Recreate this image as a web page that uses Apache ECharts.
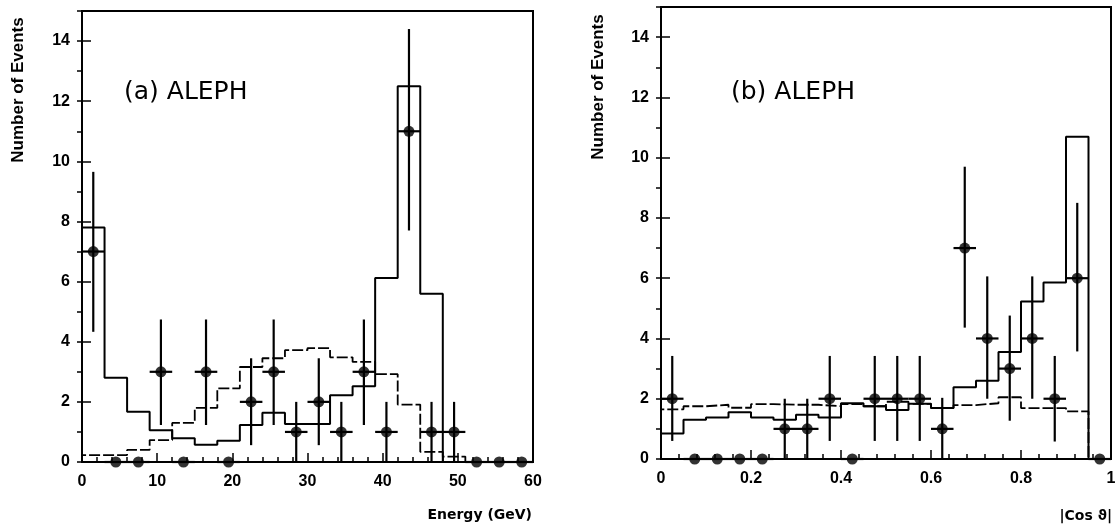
<!DOCTYPE html>
<html>
<head>
<meta charset="utf-8">
<script src="https://cdn.jsdelivr.net/npm/echarts@6/dist/echarts.min.js"></script>
<style>
  html, body { margin: 0; padding: 0; background: #fff; }
  #chart { width: 1119px; height: 530px; }
</style>
</head>
<body>
<div id="chart"></div>
<script>
// ---- Panel (a): energy of the candidates, 3 GeV bins ----
const energyEdges = [0, 3, 6, 9, 12, 15, 18, 21, 24, 27, 30, 33, 36, 39, 42, 45, 48, 51, 54, 57];
const energyEnd = 60;
const energyCenters = [1.5, 4.5, 7.5, 10.5, 13.5, 16.5, 19.5, 22.5, 25.5, 28.5, 31.5, 34.5, 37.5, 40.5, 43.5, 46.5, 49.5, 52.5, 55.5, 58.5];
const energyCounts = [7, 0, 0, 3, 0, 3, 0, 2, 3, 1, 2, 1, 3, 1, 11, 1, 1, 0, 0, 0];
const energyErrLow = [4.33, 0, 0, 1.23, 0, 1.23, 0, 0.56, 1.23, 0, 0.56, 0, 1.23, 0, 7.7, 0, 0, 0, 0, 0];
const energyErrHigh = [9.65, 0, 0, 4.74, 0, 4.74, 0, 3.45, 4.74, 2.0, 3.45, 2.0, 4.74, 2.0, 14.4, 2.0, 2.0, 0, 0, 0];
// expected spectra (solid: total, dashed: background)
const energySolid = [7.8, 2.8, 1.67, 1.06, 0.79, 0.57, 0.71, 1.23, 1.64, 1.26, 1.26, 2.22, 2.52, 6.12, 12.5, 5.6, 0, 0, 0, 0];
const energyDashed = [0.23, 0.23, 0.4, 0.73, 1.3, 1.8, 2.45, 3.16, 3.45, 3.72, 3.79, 3.48, 3.33, 2.92, 1.91, 0.34, 0.18, 0, 0, 0];

// ---- Panel (b): |cos theta| of the candidates, 0.05 bins ----
const cosEdges = [0, 0.05, 0.1, 0.15, 0.2, 0.25, 0.3, 0.35, 0.4, 0.45, 0.5, 0.55, 0.6, 0.65, 0.7, 0.75, 0.8, 0.85, 0.9, 0.95];
const cosEnd = 1;
const cosCenters = [0.025, 0.075, 0.125, 0.175, 0.225, 0.275, 0.325, 0.375, 0.425, 0.475, 0.525, 0.575, 0.625, 0.675, 0.725, 0.775, 0.825, 0.875, 0.925, 0.975];
const cosCounts = [2, 0, 0, 0, 0, 1, 1, 2, 0, 2, 2, 2, 1, 7, 4, 3, 4, 2, 6, 0];
const cosErrLow = [0.6, 0, 0, 0, 0, 0, 0, 0.6, 0, 0.6, 0.6, 0.6, 0, 4.36, 2.0, 1.27, 2.0, 0.58, 3.57, 0];
const cosErrHigh = [3.42, 0, 0, 0, 0, 2.0, 2.0, 3.42, 0, 3.42, 3.42, 3.42, 2.03, 9.7, 6.06, 4.76, 6.06, 3.42, 8.5, 0];
const cosSolid = [0.85, 1.3, 1.38, 1.55, 1.38, 1.3, 1.47, 1.38, 1.85, 1.75, 1.63, 1.83, 1.69, 2.38, 2.6, 3.55, 5.23, 5.86, 10.69, 0];
const cosDashed = [1.65, 1.75, 1.8, 1.7, 1.82, 1.8, 1.8, 1.75, 1.82, 1.75, 1.9, 1.83, 1.69, 1.79, 1.85, 2.05, 1.69, 1.69, 1.58, 0];

// ---- tick labels ----
const countTicks = [0, 2, 4, 6, 8, 10, 12, 14];
const energyTicks = [0, 10, 20, 30, 40, 50, 60];
const cosTickLabels = ['0', '0.2', '0.4', '0.6', '0.8', '1'];

const INK = '#000';
const tickFont = { color: INK, fontSize: 16, fontWeight: 'bold', fontFamily: 'Liberation Sans, Arial, sans-serif' };

// step outline of a histogram: rises at the first edge, one point per bin, closing at the last edge
function histData(edges, values, end) {
  const pts = [[edges[0], 0]];
  for (let i = 0; i < edges.length; i++) pts.push([edges[i], values[i]]);
  pts.push([end, values[values.length - 1]]);
  pts.push([end, 0]);
  return pts;
}

function pointRows(centers, counts, lo, hi) {
  return centers.map((c, i) => [c, counts[i], lo[i], hi[i]]);
}

// vertical error bar plus horizontal bin-width bar
function errorBars(halfWidth) {
  return function (params, api) {
    const x = api.value(0), y = api.value(1), lo = api.value(2), hi = api.value(3);
    const left = api.coord([x - halfWidth, y]);
    const right = api.coord([x + halfWidth, y]);
    const bottom = api.coord([x, lo]);
    const top = api.coord([x, hi]);
    const style = { stroke: INK, lineWidth: 2.2 };
    const children = [
      { type: 'line', shape: { x1: left[0], y1: left[1], x2: right[0], y2: right[1] }, style: style }
    ];
    if (hi > lo) {
      children.push({ type: 'line', shape: { x1: bottom[0], y1: bottom[1], x2: top[0], y2: top[1] }, style: style });
    }
    return { type: 'group', children: children };
  };
}

function xAxisDef(gridIndex, min, max, interval, formatter) {
  return {
    type: 'value', gridIndex: gridIndex, min: min, max: max, interval: interval,
    axisLine: { show: true, onZero: false, lineStyle: { color: INK, width: 2 } },
    axisTick: { show: true, inside: true, length: 9, lineStyle: { color: INK, width: 1.5 } },
    minorTick: { show: true, splitNumber: 5, length: 5, lineStyle: { color: INK, width: 1.5 } },
    splitLine: { show: false },
    axisLabel: Object.assign({ margin: 12, formatter: formatter, showMaxLabel: true, showMinLabel: true }, tickFont)
  };
}

function yMajorAxis(gridIndex) {
  return {
    type: 'value', gridIndex: gridIndex, min: 0, max: 15, interval: 2,
    axisLine: { show: true, onZero: false, lineStyle: { color: INK, width: 2 } },
    axisTick: { show: true, inside: true, length: 9, lineStyle: { color: INK, width: 1.5 } },
    splitLine: { show: false },
    axisLabel: Object.assign({
      margin: 12,
      formatter: v => (countTicks.indexOf(v) >= 0 ? String(v) : '')
    }, tickFont)
  };
}

function yMinorAxis(gridIndex) {
  return {
    type: 'value', gridIndex: gridIndex, min: 0, max: 15, interval: 1,
    axisLine: { show: false },
    axisTick: { show: true, inside: true, length: 5, lineStyle: { color: INK, width: 1.5 } },
    splitLine: { show: false },
    axisLabel: { show: false }
  };
}

function histSeries(xi, yi, edges, values, end, dashed) {
  return {
    type: 'line', xAxisIndex: xi, yAxisIndex: yi, step: 'end',
    data: histData(edges, values, end),
    symbol: 'none', silent: true, z: 2,
    lineStyle: { color: INK, width: dashed ? 1.8 : 2, type: dashed ? [11, 3] : 'solid' }
  };
}

const chart = echarts.init(document.getElementById('chart'), null, { renderer: 'canvas' });

chart.setOption({
  animation: false,
  backgroundColor: '#fff',
  grid: [
    { left: 82, top: 11, width: 451, height: 451, show: true, borderColor: INK, borderWidth: 2, backgroundColor: 'transparent' },
    { left: 661, top: 7, width: 450, height: 452, show: true, borderColor: INK, borderWidth: 2, backgroundColor: 'transparent' }
  ],
  xAxis: [
    xAxisDef(0, 0, 60, 10, v => (energyTicks.indexOf(v) >= 0 ? String(v) : '')),
    xAxisDef(1, 0, 1, 0.2, v => {
      const k = Math.round(v / 0.2);
      return Math.abs(v - k * 0.2) < 1e-6 ? cosTickLabels[k] : '';
    })
  ],
  yAxis: [yMajorAxis(0), yMinorAxis(0), yMajorAxis(1), yMinorAxis(1)],
  series: [
    histSeries(0, 0, energyEdges, energyDashed, energyEnd, true),
    histSeries(0, 0, energyEdges, energySolid, energyEnd, false),
    {
      type: 'custom', xAxisIndex: 0, yAxisIndex: 0, clip: false, z: 3,
      renderItem: errorBars(1.5),
      encode: { x: 0, y: 1 },
      data: pointRows(energyCenters, energyCounts, energyErrLow, energyErrHigh)
    },
    {
      type: 'scatter', xAxisIndex: 0, yAxisIndex: 0, symbol: 'circle', symbolSize: 11, z: 4,
      itemStyle: { color: INK },
      data: energyCenters.map((c, i) => [c, energyCounts[i]])
    },
    histSeries(1, 2, cosEdges, cosDashed, cosEnd, true),
    histSeries(1, 2, cosEdges, cosSolid, cosEnd, false),
    {
      type: 'custom', xAxisIndex: 1, yAxisIndex: 2, clip: false, z: 3,
      renderItem: errorBars(0.025),
      encode: { x: 0, y: 1 },
      data: pointRows(cosCenters, cosCounts, cosErrLow, cosErrHigh)
    },
    {
      type: 'scatter', xAxisIndex: 1, yAxisIndex: 2, symbol: 'circle', symbolSize: 11, z: 4,
      itemStyle: { color: INK },
      data: cosCenters.map((c, i) => [c, cosCounts[i]])
    }
  ],
  graphic: [
    {
      type: 'text', x: 18, y: 90, rotation: Math.PI / 2,
      style: { text: 'Number of Events', fill: INK, font: 'bold 17px "Liberation Sans", Arial, sans-serif', align: 'center', verticalAlign: 'middle' }
    },
    {
      type: 'text', x: 598, y: 87, rotation: Math.PI / 2,
      style: { text: 'Number of Events', fill: INK, font: 'bold 17px "Liberation Sans", Arial, sans-serif', align: 'center', verticalAlign: 'middle' }
    },
    {
      type: 'text', x: 532, y: 515,
      style: { text: 'Energy (GeV)', fill: INK, font: 'bold 14px "DejaVu Sans", sans-serif', align: 'right', verticalAlign: 'middle' }
    },
    {
      type: 'text', x: 1112, y: 516,
      style: { text: '|Cos \u03d1|', fill: INK, font: 'bold 14px "DejaVu Sans", sans-serif', align: 'right', verticalAlign: 'middle' }
    },
    {
      type: 'text', x: 124, y: 92,
      style: { text: '(a) ALEPH', fill: INK, font: '25px "DejaVu Sans", sans-serif', align: 'left', verticalAlign: 'middle' }
    },
    {
      type: 'text', x: 731, y: 92,
      style: { text: '(b) ALEPH', fill: INK, font: '25px "DejaVu Sans", sans-serif', align: 'left', verticalAlign: 'middle' }
    }
  ]
});
</script>
</body>
</html>
